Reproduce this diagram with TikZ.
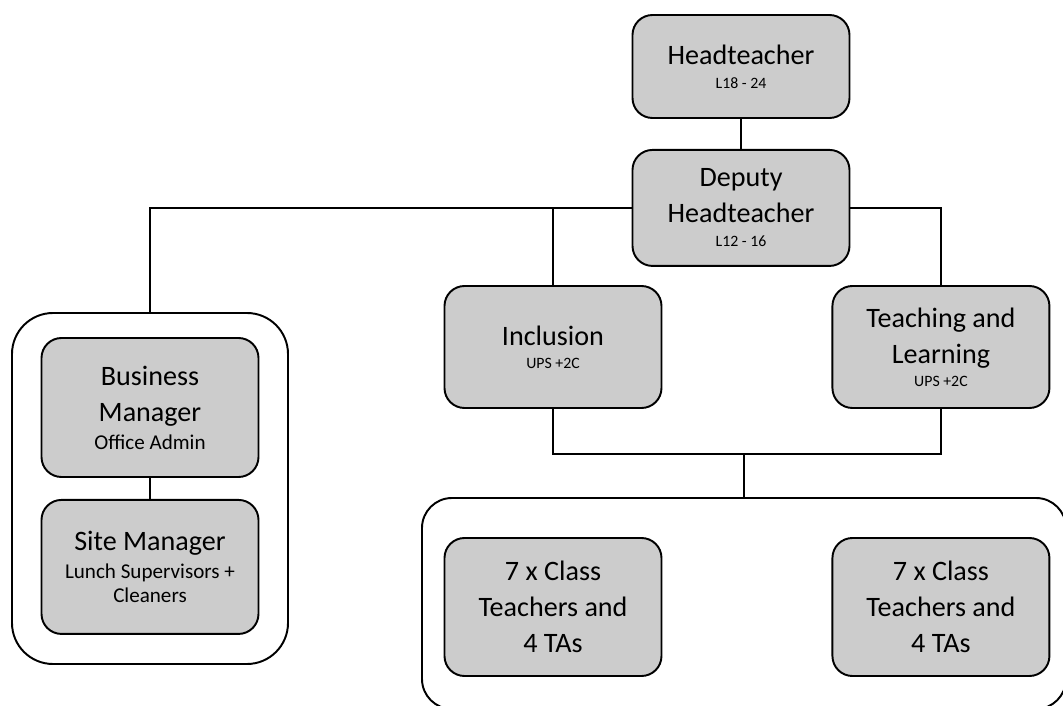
\documentclass[tikz,border=0pt]{standalone}
\usepackage{fontspec}
\setmainfont{Carlito}
\usetikzlibrary{positioning}
\definecolor{boxgrey}{RGB}{204,204,204}
\newcommand{\gradefont}{\fontsize{9}{11}\selectfont}
\newcommand{\dutyfont}{\fontsize{12}{14}\selectfont}

\begin{document}
\begin{tikzpicture}[
  node distance=0.6cm and 3.38cm,
  box/.style={rectangle, draw, line width=1.1pt, fill=boxgrey, rounded corners=0.4cm, align=center, minimum width=4.34cm, inner sep=2pt, font=\fontsize{16}{20.5}\selectfont},
  group/.style={rectangle, draw, line width=1.1pt, fill=white},
  link/.style={line width=0.9pt}
]
\useasboundingbox (0,0) rectangle (21.26,-14.12);
\clip (0,0) rectangle (21.26,-14.12);

% outer groups
\node[group, rounded corners=0.82cm, minimum width=5.52cm, minimum height=7.02cm] (office) at (3.0,-9.77) {};
\node[group, rounded corners=0.6cm, minimum width=12.88cm, minimum height=4.22cm] (classes) at (14.88,-12.07) {};

% leadership
\node[box, minimum height=2.06cm] (head) at (14.82,-1.33) {Headteacher\\[-6.8pt]{\gradefont L18 - 24}};
\node[box, minimum height=2.32cm, below=of head] (deputy) {Deputy\\Headteacher\\[-6.8pt]{\gradefont L12 - 16}};
\node[box, minimum height=2.44cm] (inclusion) at (11.06,-6.94) {Inclusion\\[-7.4pt]{\gradefont UPS +2C}};
\node[box, minimum height=2.44cm, right=of inclusion] (teaching) {Teaching and\\Learning\\[-7.4pt]{\gradefont UPS +2C}};

% office side
\node[box, minimum height=2.78cm] (business) at (3.0,-8.15) {Business\\Manager\\[-4.6pt]{\dutyfont Office Admin}};
\node[box, minimum height=2.68cm, below=0.42cm of business] (site) {Site Manager\\[-4.6pt]{\dutyfont Lunch Supervisors +}\\[-6.3pt]{\dutyfont Cleaners}};

% class teams
\node[box, minimum height=2.76cm] (teamA) at (11.06,-12.14) {7 x Class\\Teachers and\\4 TAs};
\node[box, minimum height=2.76cm, right=of teamA] (teamB) {7 x Class\\Teachers and\\4 TAs};

\draw[link] (head) -- (deputy);
\draw[link] (deputy.west) -| (office.north);
\draw[link] (deputy.west) -| (inclusion.north);
\draw[link] (deputy.east) -| (teaching.north);
\draw[link] (business) -- (site);
\draw[link] (inclusion.south) -- ++(0,-0.9) coordinate (join) -| (teaching.south);
\draw[link] (classes.north) |- (join);
\end{tikzpicture}
\end{document}
